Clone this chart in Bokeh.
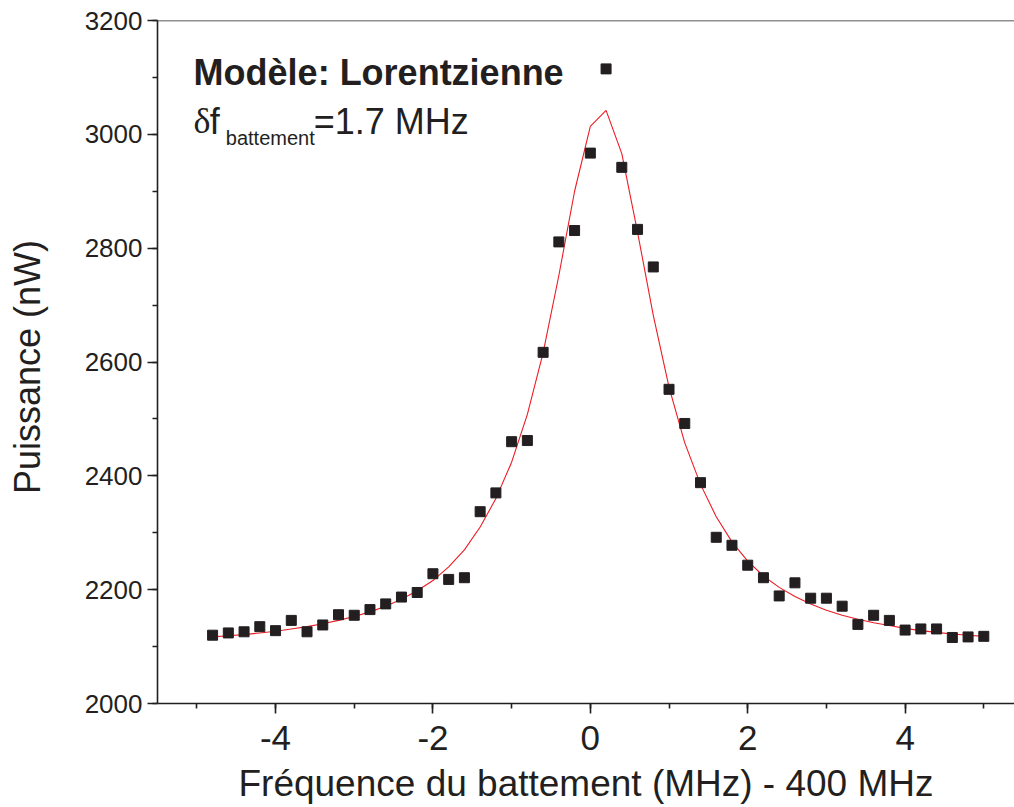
from bokeh.plotting import figure
from bokeh.models import Range1d, SingleIntervalTicker, Label, Span
from bokeh.embed import file_html
from bokeh.resources import INLINE

# ---- data ----
freq = [-4.8, -4.6, -4.4, -4.2, -4.0, -3.8, -3.6, -3.4, -3.2, -3.0,
        -2.8, -2.6, -2.4, -2.2, -2.0, -1.8, -1.6, -1.4, -1.2, -1.0,
        -0.8, -0.6, -0.4, -0.2, 0.0, 0.2, 0.4, 0.6, 0.8, 1.0,
        1.2, 1.4, 1.6, 1.8, 2.0, 2.2, 2.4, 2.6, 2.8, 3.0,
        3.2, 3.4, 3.6, 3.8, 4.0, 4.2, 4.4, 4.6, 4.8, 5.0]
puissance = [2120, 2124, 2126, 2135, 2128, 2146, 2126, 2138, 2156, 2155,
             2165, 2175, 2187, 2195, 2228, 2218, 2221, 2337, 2370, 2460,
             2462, 2617, 2811, 2831, 2967, 3115, 2942, 2833, 2767, 2552,
             2492, 2388, 2292, 2278, 2243, 2221, 2189, 2212, 2185, 2185,
             2171, 2139, 2155, 2146, 2129, 2131, 2131, 2116, 2117, 2118]
fit_freq = freq
fit_puissance = [2117, 2119, 2121, 2124, 2127, 2131, 2135, 2140, 2146, 2153,
                 2161, 2171, 2183, 2198, 2216, 2240, 2270, 2310, 2360, 2424,
                 2508, 2616, 2752, 2900, 3014, 3042, 2966, 2828, 2682, 2556,
                 2458, 2385, 2328, 2284, 2250, 2224, 2204, 2188, 2175, 2164,
                 2155, 2148, 2142, 2137, 2132, 2128, 2125, 2122, 2120, 2118]
x_tick_labels = {-4: "-4", -2: "-2", 0: "0", 2: "2", 4: "4"}

FONT = "Liberation Sans"
AXC = "#231f20"

p = figure(width=1014, height=807, output_backend="svg", toolbar_location=None,
           x_range=Range1d(-5.5, 5.39), y_range=Range1d(2000, 3200),
           min_border_left=157, min_border_right=0, min_border_top=20,
           min_border_bottom=104)
p.outline_line_color = None
p.xgrid.visible = False
p.ygrid.visible = False
p.background_fill_color = "white"
p.border_fill_color = "white"

p.line(fit_freq, fit_puissance, line_color="#ed1c24", line_width=1.1)
p.scatter(freq, puissance, marker="square", size=10, fill_color=AXC,
          line_color=AXC)

xa = p.xaxis[0]
xa.ticker = SingleIntervalTicker(interval=2, num_minor_ticks=2)
xa.major_label_overrides = x_tick_labels
xa.axis_label = "Fréquence du battement (MHz) - 400 MHz"
ya = p.yaxis[0]
ya.ticker = SingleIntervalTicker(interval=200, num_minor_ticks=2)
ya.axis_label = "Puissance  (nW)"

for ax in (xa, ya):
    ax.axis_line_color = AXC
    ax.axis_line_width = 1.6
    ax.major_tick_line_color = AXC
    ax.minor_tick_line_color = AXC
    ax.major_tick_line_width = 1.6
    ax.minor_tick_line_width = 1.6
    ax.major_tick_out = 10
    ax.major_tick_in = 0
    ax.minor_tick_out = 5
    ax.minor_tick_in = 0
    ax.major_label_text_font = FONT
    ax.axis_label_text_font = FONT
    ax.axis_label_text_font_style = "normal"
    ax.major_label_text_color = AXC
    ax.axis_label_text_color = AXC

xa.major_label_text_font_size = "35px"
xa.axis_label_text_font_size = "37px"
xa.major_label_standoff = 12
xa.axis_label_standoff = 10
ya.major_label_text_font_size = "26px"
ya.axis_label_text_font_size = "36px"
ya.major_label_standoff = 5
ya.axis_label_standoff = 34

# top frame line
p.add_layout(Span(location=3200, dimension="width", line_color=AXC,
                  line_width=1.6))

# annotations
p.add_layout(Label(x=-5.041, y=3108, text="Modèle: Lorentzienne",
                   text_font=FONT, text_font_style="bold", text_font_size="36px",
                   text_color=AXC, text_baseline="alphabetic"))
p.add_layout(Label(x=-5.041, y=3023, text="δ", text_font="Liberation Serif",
                   text_font_size="36px", text_color=AXC,
                   text_baseline="alphabetic"))
p.add_layout(Label(x=-4.837, y=3023, text="f", text_font=FONT,
                   text_font_size="36px", text_color=AXC,
                   text_baseline="alphabetic"))
p.add_layout(Label(x=-4.632, y=2994, text="battement", text_font=FONT,
                   text_font_size="20px", text_color=AXC,
                   text_baseline="alphabetic"))
p.add_layout(Label(x=-3.516, y=3023, text="=1.7 MHz", text_font=FONT,
                   text_font_size="36px", text_color=AXC,
                   text_baseline="alphabetic"))

open("out.html", "w").write(file_html(p, INLINE))
